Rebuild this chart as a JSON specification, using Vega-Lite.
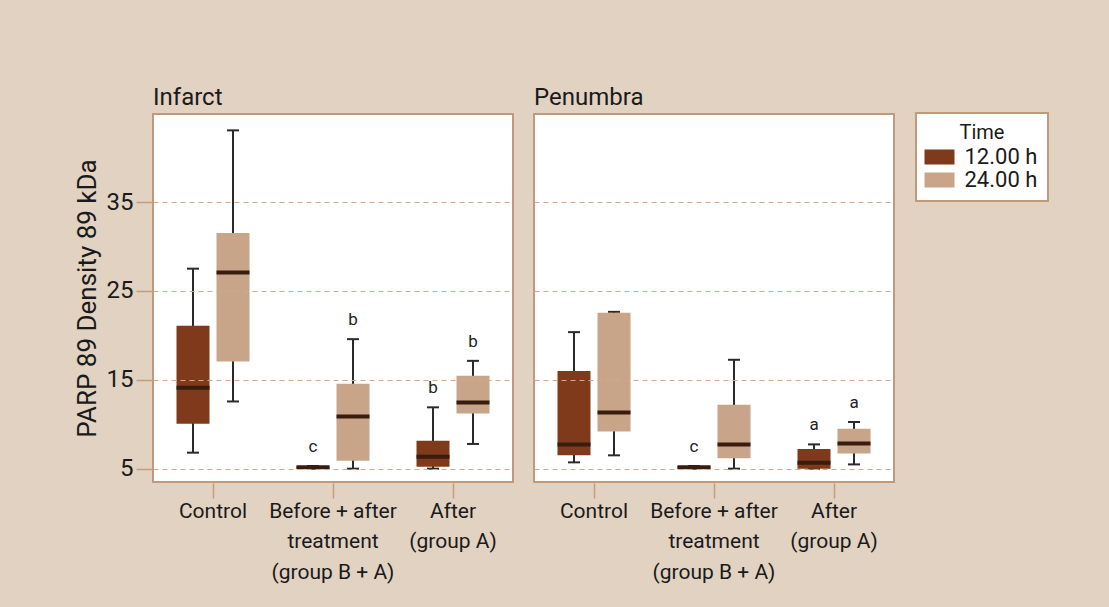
{
  "$schema": "https://vega.github.io/schema/vega-lite/v6.json",
  "background": "#e2d2c2",
  "padding": {"left": 74, "top": 86, "right": 60, "bottom": 25},
  "data": {
    "values": [
      {"region": "Infarct", "group": "Control", "time": "12.00 h", "lo": 6.8, "q1": 10.06, "med": 14.1, "q3": 21.07, "hi": 27.5, "letter": ""},
      {"region": "Infarct", "group": "Control", "time": "24.00 h", "lo": 12.56, "q1": 17.06, "med": 27.06, "q3": 31.5, "hi": 43.06, "letter": ""},
      {"region": "Infarct", "group": "Before + after|treatment|(group B + A)", "time": "12.00 h", "lo": 5.0, "q1": 5.0, "med": 5.15, "q3": 5.3, "hi": 5.3, "letter": "c"},
      {"region": "Infarct", "group": "Before + after|treatment|(group B + A)", "time": "24.00 h", "lo": 5.0, "q1": 5.9, "med": 10.88, "q3": 14.55, "hi": 19.57, "letter": "b"},
      {"region": "Infarct", "group": "After|(group A)", "time": "12.00 h", "lo": 5.0, "q1": 5.22, "med": 6.35, "q3": 8.15, "hi": 11.9, "letter": "b"},
      {"region": "Infarct", "group": "After|(group A)", "time": "24.00 h", "lo": 7.78, "q1": 11.2, "med": 12.45, "q3": 15.45, "hi": 17.13, "letter": "b"},
      {"region": "Penumbra", "group": "Control", "time": "12.00 h", "lo": 5.71, "q1": 6.5, "med": 7.73, "q3": 16.0, "hi": 20.36, "letter": ""},
      {"region": "Penumbra", "group": "Control", "time": "24.00 h", "lo": 6.5, "q1": 9.19, "med": 11.33, "q3": 22.53, "hi": 22.64, "letter": ""},
      {"region": "Penumbra", "group": "Before + after|treatment|(group B + A)", "time": "12.00 h", "lo": 5.0, "q1": 5.0, "med": 5.15, "q3": 5.3, "hi": 5.3, "letter": "c"},
      {"region": "Penumbra", "group": "Before + after|treatment|(group B + A)", "time": "24.00 h", "lo": 5.0, "q1": 6.16, "med": 7.73, "q3": 12.19, "hi": 17.25, "letter": ""},
      {"region": "Penumbra", "group": "After|(group A)", "time": "12.00 h", "lo": 5.0, "q1": 5.0, "med": 5.67, "q3": 7.21, "hi": 7.73, "letter": "a"},
      {"region": "Penumbra", "group": "After|(group A)", "time": "24.00 h", "lo": 5.48, "q1": 6.72, "med": 7.84, "q3": 9.49, "hi": 10.25, "letter": "a"}
    ]
  },
  "facet": {
    "column": {
      "field": "region",
      "type": "nominal",
      "title": null,
      "sort": ["Infarct", "Penumbra"],
      "header": {
        "labelFontSize": 24,
        "labelFont": "Roboto",
        "labelColor": "#1a1a1a",
        "labelAnchor": "start",
        "labelPadding": -9
      }
    }
  },
  "spacing": 19,
  "resolve": {"scale": {"x": "shared", "y": "shared"}},
  "spec": {
    "width": 360,
    "height": 368,
    "encoding": {
      "x": {
        "field": "group",
        "type": "nominal",
        "sort": ["Control", "Before + after|treatment|(group B + A)", "After|(group A)"],
        "scale": {"paddingInner": 0, "paddingOuter": 0},
        "axis": {
          "title": null,
          "labelAngle": 0,
          "labelExpr": "split(datum.label, '|')",
          "labelFontSize": 21,
          "labelLineHeight": 30.5,
          "labelFont": "Roboto",
          "labelColor": "#1a1a1a",
          "labelPadding": 2,
          "tickSize": 15,
          "tickColor": "#c49c7c",
          "tickWidth": 1.5,
          "domain": false,
          "grid": false
        }
      },
      "xOffset": {
        "field": "time",
        "type": "nominal",
        "sort": ["12.00 h", "24.00 h"],
        "scale": {"paddingInner": 0.175, "paddingOuter": 0.5875}
      }
    },
    "layer": [
      {
        "mark": {"type": "rule", "color": "#2a2a2a", "strokeWidth": 2, "opacity": 1},
        "encoding": {
          "y": {
            "field": "lo",
            "type": "quantitative",
            "scale": {"domain": [3.5, 44.9], "nice": false, "zero": false},
            "axis": {
              "title": "PARP 89 Density 89 kDa",
              "titleFontSize": 26,
              "titleFont": "Roboto",
              "titleFontWeight": "normal",
              "titleColor": "#1a1a1a",
              "titlePadding": 6,
              "values": [5, 15, 25, 35],
              "labelFontSize": 24,
              "labelFont": "Roboto",
              "labelColor": "#1a1a1a",
              "labelPadding": 3,
              "tickSize": 16,
              "tickColor": "#c49c7c",
              "tickWidth": 1.5,
              "domain": false,
              "grid": true,
              "gridColor": "#d2a88a",
              "gridDash": [5, 4],
              "gridWidth": 1,
              "zindex": 1
            }
          },
          "y2": {"field": "hi"}
        }
      },
      {
        "mark": {"type": "tick", "color": "#2a2a2a", "thickness": 2, "size": 12, "opacity": 1},
        "encoding": {"y": {"field": "lo", "type": "quantitative"}}
      },
      {
        "mark": {"type": "tick", "color": "#2a2a2a", "thickness": 2, "size": 12, "opacity": 1},
        "encoding": {"y": {"field": "hi", "type": "quantitative"}}
      },
      {
        "mark": {"type": "bar", "opacity": 1},
        "encoding": {
          "y": {"field": "q1", "type": "quantitative"},
          "y2": {"field": "q3"},
          "color": {
            "field": "time",
            "type": "nominal",
            "scale": {"domain": ["12.00 h", "24.00 h"], "range": ["#7e3a1a", "#c8a589"]},
            "legend": {
              "title": "Time",
              "orient": "none",
              "legendX": 763,
              "legendY": -1,
              "titleAnchor": "middle",
              "titleFontSize": 20,
              "titleFont": "Roboto",
              "titleFontWeight": "normal",
              "titleColor": "#1a1a1a",
              "titlePadding": 3,
              "labelFontSize": 22,
              "labelFont": "Roboto",
              "labelColor": "#1a1a1a",
              "symbolType": "M-2,-1H2V1H-2Z",
              "symbolSize": 225,
              "symbolOffset": 2.5,
              "symbolStrokeWidth": 0,
              "symbolOpacity": 1,
              "fillColor": "white",
              "strokeColor": "#c19a7a",
              "padding": 10,
              "rowPadding": 1,
              "labelOffset": 14,
              "encode": {"legend": {"update": {"strokeWidth": {"value": 2}}}}
            }
          }
        }
      },
      {
        "mark": {"type": "tick", "color": "#3a1c0e", "thickness": 4, "size": 33, "opacity": 1},
        "encoding": {"y": {"field": "med", "type": "quantitative"}}
      },
      {
        "mark": {"type": "text", "fontSize": 17, "font": "Roboto", "fill": "#222222", "baseline": "middle", "dy": -19},
        "encoding": {
          "y": {"field": "hi", "type": "quantitative"},
          "text": {"field": "letter"}
        }
      }
    ]
  },
  "config": {
    "view": {"stroke": "#c19a7a", "strokeWidth": 2, "fill": "white"}
  }
}
